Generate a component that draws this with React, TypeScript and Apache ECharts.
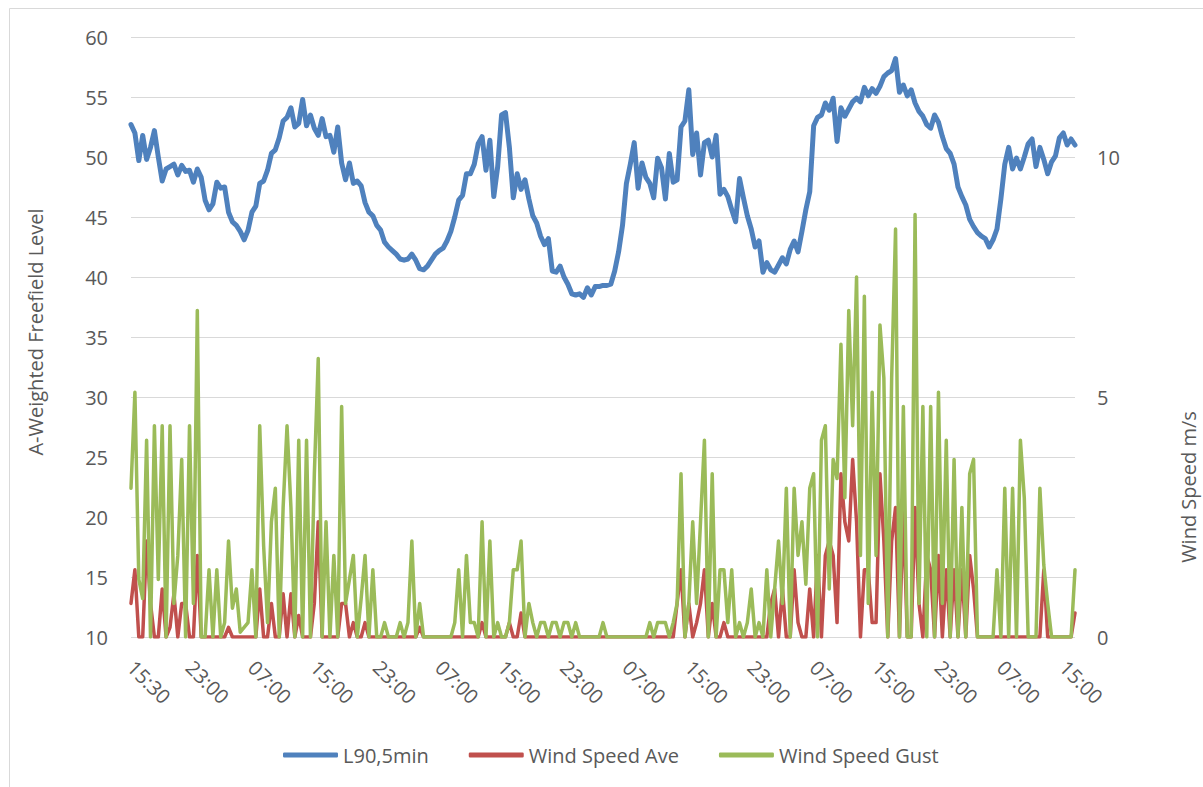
import React, { useEffect, useRef } from "react";
import * as echarts from "echarts";

// Categories: half-hourly timestamps from 15:30 (day 1) to 16:30 (day 6)
const START_MINUTES = 15 * 60 + 30;
const STEP_MINUTES = 30;
const POINT_COUNT = 243;
const times: string[] = Array.from({ length: POINT_COUNT }, (_, i) => {
  const m = (START_MINUTES + i * STEP_MINUTES) % 1440;
  return `${String(Math.floor(m / 60)).padStart(2, "0")}:${String(m % 60).padStart(2, "0")}`;
});
const labelledTimes = ["23:00", "07:00", "15:00"];

// L90,5min (dB, left axis)
const l90: number[] = [
  52.7, 52.0, 49.7, 51.8, 49.8, 50.8, 52.2, 50.0, 48.0, 49.0,
  49.2, 49.4, 48.5, 49.3, 48.8, 48.9, 47.9, 49.0, 48.3, 46.4,
  45.6, 46.1, 47.9, 47.4, 47.5, 45.4, 44.6, 44.3, 43.8, 43.1,
  43.9, 45.4, 45.9, 47.8, 48.0, 48.9, 50.3, 50.6, 51.6, 53.0,
  53.3, 54.1, 52.5, 52.8, 54.8, 52.6, 53.5, 52.4, 51.8, 53.2,
  51.7, 51.8, 50.4, 52.5, 49.5, 48.1, 49.5, 47.8, 48.0, 47.6,
  46.2, 45.4, 45.1, 44.3, 43.9, 42.9, 42.5, 42.2, 41.9, 41.5,
  41.4, 41.5, 41.9, 41.4, 40.7, 40.6, 40.9, 41.4, 41.9, 42.2,
  42.4, 43.0, 43.8, 45.0, 46.4, 46.8, 48.6, 48.6, 49.4, 51.1,
  51.7, 48.9, 51.4, 46.7, 49.2, 53.5, 53.7, 50.8, 46.6, 48.6,
  47.3, 48.1, 46.5, 45.1, 44.5, 43.4, 42.7, 43.2, 40.5, 40.4,
  40.9, 40.0, 39.4, 38.6, 38.5, 38.6, 38.3, 39.1, 38.5, 39.2,
  39.2, 39.3, 39.3, 39.4, 40.5, 42.1, 44.3, 47.8, 49.4, 51.2,
  47.4, 49.5, 48.3, 47.8, 46.6, 49.9, 49.1, 46.5, 50.3, 47.9,
  48.1, 52.5, 53.0, 55.6, 50.2, 52.0, 48.5, 51.2, 51.4, 50.0,
  51.8, 46.9, 47.3, 46.7, 45.6, 44.6, 48.2, 46.6, 45.1, 44.0,
  42.5, 43.0, 40.4, 41.2, 40.6, 40.4, 41.0, 41.6, 41.1, 42.3,
  43.0, 42.1, 43.8, 45.6, 47.1, 52.6, 53.3, 53.5, 54.5, 53.9,
  54.9, 51.3, 54.1, 53.4, 54.0, 54.6, 54.9, 54.6, 55.8, 55.1,
  55.7, 55.3, 55.9, 56.7, 57.0, 57.2, 58.2, 55.4, 56.0, 55.1,
  55.6, 54.5, 53.8, 53.4, 52.7, 52.4, 53.5, 52.9, 51.7, 50.7,
  50.3, 49.4, 47.5, 46.7, 46.0, 44.8, 44.2, 43.7, 43.4, 43.2,
  42.5, 43.1, 44.0, 46.5, 49.4, 50.8, 49.0, 49.9, 49.0, 50.0,
  51.1, 51.5, 49.2, 50.8, 49.8, 48.6, 49.6, 50.1, 51.6, 52.0,
  51.0, 51.5, 51.0,
];

// Wind Speed Ave (m/s, right axis)
const windAve: number[] = [
  0.7, 1.4, 0, 0, 2.0, 0.7, 0, 0, 1.0, 0,
  0.2, 0.9, 0, 0.7, 0.7, 0, 0, 1.7, 0, 0,
  0, 0, 0, 0, 0, 0.2, 0, 0, 0, 0,
  0, 0, 0, 1.0, 0, 0, 0.7, 0, 0, 0.9,
  0, 0.9, 0, 0.45, 0, 0, 0, 0.7, 2.4, 0,
  0, 0, 0, 0, 0.7, 0.7, 0, 0.3, 0, 0,
  0.3, 0, 0, 0, 0, 0, 0, 0, 0, 0,
  0, 0, 0, 0, 0.2, 0, 0, 0, 0, 0,
  0, 0, 0, 0, 0, 0, 0, 0, 0, 0,
  0.3, 0, 0, 0, 0, 0, 0, 0.3, 0, 0,
  0.5, 0, 0, 0, 0, 0, 0, 0, 0, 0,
  0, 0, 0, 0, 0, 0, 0, 0, 0, 0,
  0, 0, 0, 0, 0, 0, 0, 0, 0, 0,
  0, 0, 0, 0, 0, 0, 0, 0, 0, 0,
  0.7, 1.4, 0, 0.7, 0, 0.3, 0.7, 1.4, 0, 0.7,
  0, 0, 0.3, 0, 0, 0, 0, 0, 0, 0,
  0, 0, 0, 0, 0.7, 1.0, 0, 1.0, 0, 0,
  1.4, 0.3, 0, 0, 1.0, 0, 1.7, 0, 1.7, 2.0,
  1.7, 0.3, 3.4, 2.4, 2.0, 3.7, 2.4, 0, 1.4, 1.4,
  0.3, 0.3, 3.4, 2.0, 0, 2.0, 2.7, 0, 2.7, 0,
  0, 2.7, 0.7, 0, 1.7, 1.4, 0, 1.7, 0, 1.4,
  0, 1.4, 0, 1.4, 0, 1.7, 1.0, 0, 0, 0,
  0, 0, 0, 0, 0, 0, 0, 0, 0, 0,
  0, 0, 0, 0, 1.4, 0, 0, 0, 0, 0,
  0, 0, 0.5,
];

// Wind Speed Gust (m/s, right axis)
const windGust: number[] = [
  3.1, 5.1, 1.2, 0.8, 4.1, 0, 4.4, 1.2, 4.4, 0,
  4.4, 0.7, 1.7, 3.7, 0, 4.4, 0.7, 6.8, 0, 0,
  1.4, 0, 1.4, 0, 0.3, 2.0, 0.6, 1.0, 0.1, 0.2,
  0.3, 1.4, 0, 4.4, 1.9, 0.3, 2.4, 3.1, 0, 2.7,
  4.4, 2.7, 0, 4.1, 0, 4.1, 0, 3.4, 5.8, 0,
  2.4, 0, 1.7, 0, 4.8, 0.7, 1.2, 1.7, 0, 0.8,
  1.7, 0, 1.4, 0, 0, 0.3, 0, 0, 0, 0.3,
  0, 0.3, 2.0, 0, 0.7, 0, 0, 0, 0, 0,
  0, 0, 0, 0.3, 1.4, 0, 1.7, 0.3, 0.3, 0,
  2.4, 0, 2.0, 0, 0.3, 0, 0, 0.3, 1.4, 1.4,
  2.0, 0, 0.7, 0.3, 0, 0.3, 0.3, 0, 0.3, 0.3,
  0, 0.3, 0.3, 0, 0.3, 0, 0, 0, 0, 0,
  0, 0.3, 0, 0, 0, 0, 0, 0, 0, 0,
  0, 0, 0, 0.3, 0, 0.3, 0.3, 0.3, 0, 0.3,
  0.7, 3.4, 0, 0.7, 2.4, 0.7, 2.4, 4.1, 0, 3.4,
  0, 1.4, 1.4, 0.3, 1.4, 0, 0.3, 0, 0.3, 1.0,
  0, 0.3, 0, 1.4, 0, 1.0, 2.0, 0.7, 3.1, 0,
  3.1, 1.7, 2.4, 1.1, 3.1, 3.4, 0, 4.1, 4.4, 1.0,
  3.7, 3.3, 6.1, 2.9, 6.8, 4.4, 7.5, 1.7, 7.1, 0.7,
  5.1, 1.7, 6.5, 5.4, 0, 5.4, 8.5, 0, 4.8, 0,
  0, 8.8, 0.7, 4.8, 0, 4.8, 0, 5.1, 0.7, 4.1,
  0, 3.7, 0, 2.7, 0, 3.4, 3.7, 0, 0, 0,
  0, 0, 1.4, 0, 3.1, 0, 3.1, 0, 4.1, 2.9,
  0, 0, 0, 3.1, 1.5, 0.7, 0, 0, 0, 0,
  0, 0, 1.4,
];

const FONT = '"Open Sans", "Noto Sans", sans-serif';
const TEXT_COLOR = "#595959";
const BLUE = "#4F81BD";
const RED = "#C0504D";
const GREEN = "#9BBB59";

export default function App() {
  const ref = useRef<HTMLDivElement>(null);

  useEffect(() => {
    if (!ref.current) return;
    const chart = echarts.init(ref.current, undefined, { renderer: "svg" });
    chart.setOption({
      animation: false,
      backgroundColor: "#ffffff",
      textStyle: { fontFamily: FONT },
      grid: { left: 131, right: 128, top: 37, bottom: 150 },
      legend: {
        left: 278,
        top: 740,
        icon: "roundRect",
        itemWidth: 55,
        itemHeight: 5,
        itemGap: 40,
        textStyle: { fontSize: 20, color: TEXT_COLOR, fontFamily: FONT },
        data: ["L90,5min", "Wind Speed Ave", "Wind Speed Gust"],
      },
      xAxis: {
        type: "category",
        data: times,
        boundaryGap: false,
        axisLine: { show: false },
        axisTick: { show: false },
        splitLine: { show: false },
        axisLabel: {
          interval: (index: number, value: string) =>
            index === 0 || labelledTimes.includes(value),
          rotate: -45,
          margin: 27,
          fontSize: 20,
          color: TEXT_COLOR,
          fontFamily: FONT,
        },
      },
      yAxis: [
        {
          type: "value",
          min: 10,
          max: 60,
          interval: 5,
          axisLine: { show: false },
          axisTick: { show: false },
          axisLabel: { fontSize: 20, color: TEXT_COLOR, margin: 23, fontFamily: FONT },
          splitLine: { lineStyle: { color: "#d9d9d9", width: 1 } },
        },
        {
          type: "value",
          min: 0,
          max: 12.5,
          interval: 5,
          axisLine: { show: false },
          axisTick: { show: false },
          axisLabel: {
            fontSize: 20,
            color: TEXT_COLOR,
            margin: 22,
            fontFamily: FONT,
            formatter: (v: number) => (v % 5 === 0 ? String(v) : ""),
          },
          splitLine: { show: false },
        },
      ],
      graphic: [
        {
          type: "rect",
          silent: true,
          shape: { x: 9.5, y: 8.5, width: 1260, height: 860 },
          style: { fill: "none", stroke: "#d9d9d9", lineWidth: 1 },
        },
        {
          type: "text",
          x: 35,
          y: 332,
          rotation: Math.PI / 2,
          style: {
            text: "A-Weighted Freefield Level",
            fontSize: 20,
            fill: TEXT_COLOR,
            fontFamily: FONT,
            align: "center",
            verticalAlign: "middle",
          },
        },
        {
          type: "text",
          x: 1188,
          y: 487,
          rotation: Math.PI / 2,
          style: {
            text: "Wind Speed m/s",
            fontSize: 20,
            fill: TEXT_COLOR,
            fontFamily: FONT,
            align: "center",
            verticalAlign: "middle",
          },
        },
      ],
      series: [
        {
          name: "L90,5min",
          type: "line",
          yAxisIndex: 0,
          data: l90,
          symbol: "none",
          lineStyle: { color: BLUE, width: 5, cap: "round", join: "round" },
          itemStyle: { color: BLUE },
          z: 2,
        },
        {
          name: "Wind Speed Ave",
          type: "line",
          yAxisIndex: 1,
          data: windAve,
          symbol: "none",
          lineStyle: { color: RED, width: 3.5, cap: "round", join: "round" },
          itemStyle: { color: RED },
          z: 3,
        },
        {
          name: "Wind Speed Gust",
          type: "line",
          yAxisIndex: 1,
          data: windGust,
          symbol: "none",
          lineStyle: { color: GREEN, width: 3.5, cap: "round", join: "round" },
          itemStyle: { color: GREEN },
          z: 4,
        },
      ],
    });
    return () => chart.dispose();
  }, []);

  return (
    <div
      ref={ref}
      style={{ position: "absolute", left: 0, top: 0, width: 1203, height: 787 }}
    />
  );
}
